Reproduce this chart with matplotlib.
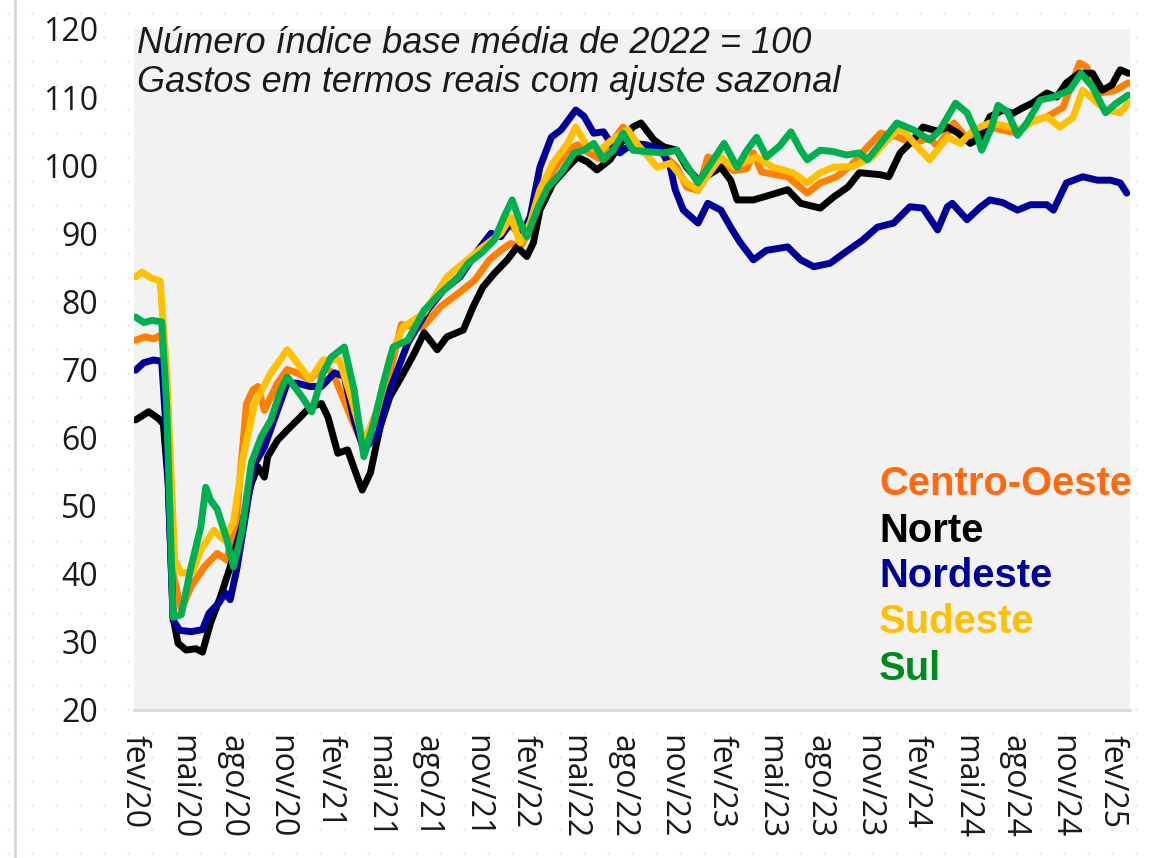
import numpy as np
import matplotlib.pyplot as plt

# months since fev/20 (x) and index values (y)
norte_m = [0.1, 0.9, 1.5, 1.8, 2.1, 2.4, 2.7, 3.2, 3.8, 4.2, 4.7, 5.3, 5.9, 6.6, 7.2, 7.6, 8.0, 8.2,
           8.8, 9.4, 10.2, 10.8, 11.5, 11.9, 12.5, 13.1, 13.7, 14.0, 14.5, 15.1, 15.7, 16.4, 17.2,
           17.8, 18.6, 19.2, 20.2, 20.8, 21.4, 22.1, 22.9, 23.5, 24.1, 24.5, 24.9, 25.7, 26.6, 27.2,
           27.8, 28.4, 29.2, 30.0, 30.6, 31.1, 31.9, 32.5, 33.3, 33.9, 34.6, 35.2, 36.0, 36.6, 37.0,
           38.0, 39.0, 40.1, 40.9, 42.1, 42.9, 43.8, 44.5, 45.8, 46.3, 47.0, 47.8, 48.4, 49.3, 49.9,
           50.5, 51.3, 51.9, 52.5, 53.3, 53.9, 54.5, 55.1, 56.0, 56.6, 57.2, 58.0, 58.8, 59.4, 60.0,
           60.5, 61.0]
norte_v = [62.6, 63.8, 62.8, 62.0, 53.3, 33.6, 29.8, 28.8, 29.0, 28.5, 32.8, 36.6, 41.0, 46.9, 53.3,
           55.7, 54.2, 57.2, 59.6, 61.1, 63.0, 64.5, 65.0, 63.0, 57.7, 58.2, 54.2, 52.3, 54.8, 61.6,
           66.0, 68.9, 72.4, 75.4, 72.9, 74.8, 75.8, 79.2, 82.1, 84.1, 86.1, 88.0, 86.6, 88.6, 93.4,
           97.3, 99.7, 101.2, 100.5, 99.3, 100.8, 103.7, 105.6, 106.2, 103.7, 102.7, 102.2, 99.7,
           97.8, 98.5, 99.7, 97.8, 94.9, 94.9, 95.6, 96.4, 94.4, 93.7, 95.3, 96.8, 98.9, 98.6, 98.3,
           101.8, 103.7, 105.6, 105.0, 105.6, 104.8, 103.2, 104.0, 107.1, 108.1, 107.6, 108.4, 109.1,
           110.6, 110.0, 112.1, 113.5, 113.5, 111.0, 111.8, 114.0, 113.5]

nordeste_m = [0.1, 0.6, 1.2, 1.7, 2.0, 2.4, 2.8, 3.5, 4.2, 4.6, 5.2, 5.6, 5.9, 6.3, 6.9, 7.3, 8.0,
              8.8, 9.4, 10.0, 10.8, 11.5, 12.3, 12.9, 13.5, 14.1, 15.0, 15.7, 16.8, 18.0, 19.0,
              20.0, 21.1, 21.9, 22.5, 23.1, 23.7, 24.3, 24.9, 25.6, 26.2, 27.1, 27.6, 28.2, 28.8,
              29.4, 29.8, 30.6, 31.4, 32.3, 32.9, 33.2, 33.7, 34.6, 35.2, 36.0, 36.6, 37.2, 38.0,
              38.8, 40.1, 40.9, 41.7, 42.7, 43.8, 44.7, 45.6, 46.6, 47.6, 48.4, 49.3, 49.9, 50.2,
              51.1, 51.9, 52.5, 53.3, 54.2, 55.0, 56.0, 56.4, 57.2, 58.2, 59.1, 59.9, 60.5, 60.9]
nordeste_v = [69.9, 71.0, 71.4, 71.2, 60.0, 33.2, 31.7, 31.5, 31.8, 34.2, 35.7, 37.2, 36.2, 40.6,
              49.4, 55.7, 58.6, 64.0, 68.0, 68.0, 67.5, 67.5, 69.5, 69.0, 62.6, 58.2, 60.7, 67.0,
              73.9, 78.7, 81.7, 83.6, 87.5, 90.0, 89.5, 91.5, 89.5, 92.4, 99.7, 104.1, 105.2, 108.1,
              107.2, 104.7, 104.9, 102.7, 101.8, 103.2, 103.0, 102.4, 99.7, 96.4, 93.4, 91.5, 94.4,
              93.4, 90.9, 88.6, 86.1, 87.5, 88.0, 86.1, 85.1, 85.6, 87.5, 89.0, 90.9, 91.5, 93.9,
              93.7, 90.5, 93.9, 94.4, 92.0, 93.8, 94.9, 94.5, 93.4, 94.2, 94.2, 93.4, 97.4, 98.3,
              97.8, 97.8, 97.4, 95.9]

centro_m = [0.1, 0.7, 1.2, 1.7, 2.0, 2.4, 2.9, 3.5, 4.3, 5.1, 5.7, 6.3, 6.9, 7.3, 7.6, 8.0, 8.8,
            9.4, 10.0, 10.8, 11.6, 12.2, 13.3, 14.1, 14.9, 15.7, 16.4, 17.7, 18.8, 19.9, 20.9,
            21.8, 22.5, 23.1, 23.7, 24.4, 25.3, 26.6, 27.2, 27.9, 28.7, 29.5, 30.0, 30.7, 32.1,
            33.3, 33.9, 34.6, 35.2, 36.0, 36.8, 37.6, 38.0, 38.5, 40.1, 41.3, 42.1, 43.1, 44.0,
            45.0, 45.8, 46.8, 47.8, 48.8, 49.3, 50.3, 51.0, 51.8, 52.5, 53.6, 54.2, 54.9, 56.0,
            57.0, 58.0, 58.4, 59.3, 60.2, 61.0]
centro_v = [74.3, 74.8, 74.5, 75.1, 65.0, 40.0, 34.7, 38.1, 41.0, 43.0, 42.0, 48.4, 65.0, 67.0,
            67.5, 64.0, 68.0, 70.0, 69.5, 68.5, 70.4, 69.5, 63.0, 58.6, 63.0, 69.5, 76.6, 76.2,
            79.2, 81.2, 83.1, 86.1, 87.5, 88.5, 88.0, 91.0, 97.8, 102.2, 103.0, 101.8, 100.8,
            104.0, 105.6, 103.0, 102.4, 99.7, 96.8, 96.3, 101.2, 100.5, 99.2, 99.5, 101.8, 99.0,
            98.3, 95.9, 97.4, 98.3, 100.0, 102.7, 104.7, 104.2, 103.2, 104.0, 102.7, 106.2, 104.2,
            104.8, 105.6, 105.0, 104.7, 106.3, 107.1, 108.5, 115.0, 114.5, 110.6, 111.0, 112.1]

sudeste_m = [0.1, 0.5, 1.0, 1.6, 2.0, 2.5, 2.9, 3.6, 4.1, 4.9, 5.5, 6.1, 6.7, 7.4, 8.4, 9.4, 10.2,
             10.8, 11.6, 12.6, 13.3, 14.1, 14.9, 15.7, 16.5, 17.8, 19.2, 20.2, 21.3, 22.5, 23.1,
             23.7, 24.3, 24.9, 25.7, 26.6, 27.1, 27.8, 28.6, 29.2, 30.3, 30.9, 32.1, 32.9, 33.9,
             34.6, 35.2, 36.0, 36.7, 37.3, 38.2, 39.2, 40.4, 41.3, 42.1, 42.9, 44.1, 45.3, 46.2,
             47.0, 47.8, 48.8, 49.9, 50.7, 51.5, 52.5, 53.6, 54.4, 55.2, 56.0, 56.8, 57.6, 58.2,
             58.8, 59.6, 60.5, 61.0]
sudeste_v = [83.6, 84.3, 83.5, 83.0, 70.0, 42.0, 40.1, 40.3, 43.5, 46.4, 45.0, 47.5, 57.2, 65.0,
             69.5, 72.9, 70.4, 68.5, 71.4, 71.4, 66.0, 59.2, 64.0, 71.8, 76.2, 78.3, 83.6, 85.6,
             87.8, 90.0, 92.4, 88.6, 91.5, 96.4, 100.3, 103.2, 105.6, 102.8, 102.2, 103.5, 105.2,
             103.0, 99.7, 100.3, 97.4, 96.4, 98.5, 101.2, 99.7, 100.3, 101.2, 99.7, 98.9, 97.4,
             98.9, 99.7, 99.8, 101.2, 103.7, 105.6, 103.4, 100.8, 104.1, 103.2, 105.2, 106.2,
             105.7, 105.2, 106.5, 107.1, 105.6, 107.0, 111.0, 109.8, 108.1, 107.7, 109.1]

sul_m = [0.1, 0.6, 1.1, 1.7, 2.0, 2.4, 2.9, 3.5, 4.1, 4.4, 4.7, 5.1, 5.7, 6.1, 6.6, 7.2, 7.8, 8.4,
         9.0, 9.4, 10.3, 10.9, 11.6, 12.1, 12.9, 13.5, 14.1, 14.7, 15.3, 15.9, 16.8, 17.8, 18.8,
         19.9, 20.5, 21.3, 22.1, 22.7, 23.2, 23.7, 24.1, 24.8, 25.4, 26.2, 27.0, 27.6, 28.2, 28.8,
         29.4, 30.0, 30.6, 31.4, 32.5, 33.3, 33.9, 34.6, 35.4, 36.2, 37.0, 37.6, 38.2, 38.8, 39.6,
         40.3, 40.9, 41.3, 42.1, 42.9, 43.7, 44.5, 45.0, 45.8, 46.8, 47.8, 48.8, 49.4, 50.4, 51.1,
         51.7, 52.0, 52.6, 53.0, 53.6, 54.2, 54.8, 55.6, 56.4, 57.4, 58.1, 58.8, 59.6, 60.2, 61.0]
sul_v = [77.7, 76.9, 77.2, 77.0, 65.0, 33.6, 34.0, 41.0, 46.9, 52.7, 50.8, 49.5, 45.0, 41.0, 46.0,
         56.3, 60.1, 62.6, 67.0, 68.9, 66.0, 63.8, 69.5, 71.8, 73.3, 67.0, 57.2, 62.1, 68.0, 73.3,
         74.3, 78.7, 81.2, 83.6, 85.6, 87.1, 89.0, 92.4, 94.9, 91.5, 89.5, 93.9, 96.8, 98.9, 101.8,
         102.2, 103.2, 100.8, 102.2, 104.7, 102.2, 102.0, 101.8, 102.2, 100.0, 97.4, 100.3, 103.2,
         99.7, 102.2, 104.1, 101.2, 102.8, 104.9, 102.2, 100.8, 102.2, 102.0, 101.5, 101.8, 100.8,
         103.2, 106.2, 105.2, 103.7, 105.0, 109.1, 107.7, 104.5, 102.2, 105.5, 108.8, 107.8, 104.4,
         106.3, 109.6, 110.0, 111.0, 113.5, 111.5, 107.7, 109.0, 110.3]

tick_pos = list(range(0, 61, 3))
tick_lbl = ["fev/20", "mai/20", "ago/20", "nov/20", "fev/21", "mai/21", "ago/21", "nov/21",
            "fev/22", "mai/22", "ago/22", "nov/22", "fev/23", "mai/23", "ago/23", "nov/23",
            "fev/24", "mai/24", "ago/24", "nov/24", "fev/25"]

regioes = ["Centro-Oeste", "Norte", "Nordeste", "Sudeste", "Sul"]
cores_linha = ["#FF7F00", "#000000", "#000099", "#FFC000", "#00B050"]
cores_texto = ["#FF6A10", "#000000", "#000099", "#FFC000", "#008A1E"]
series = [(centro_m, centro_v), (norte_m, norte_v), (nordeste_m, nordeste_v),
          (sudeste_m, sudeste_v), (sul_m, sul_v)]

W, H = 1150, 858
fig = plt.figure(figsize=(W / 100, H / 100), dpi=100, facecolor="white")

# dotted slide background
bg = fig.add_axes([0, 0, 1, 1], zorder=-10)
bg.set_xlim(0, W)
bg.set_ylim(H, 0)
bg.axis("off")
gx, gy = np.meshgrid(np.arange(8, W, 24), np.arange(13, H, 24))
bg.scatter(gx.ravel(), gy.ravel(), s=2.5, color="#e2e2e2", linewidths=0)
bg.plot([15, 15], [0, H], color="#d4d4d4", lw=2)

left, right, top, bottom = 134, 1130, 29, 710
ax = fig.add_axes([left / W, 1 - bottom / H, (right - left) / W, (bottom - top) / H])
ax.set_facecolor("#f2f2f2")

for (xm, yv), c in zip(series, cores_linha):
    ax.plot(xm, yv, color=c, lw=5, solid_joinstyle="round", solid_capstyle="round")

ax.set_xlim(0, 61.1)
ax.set_ylim(20, 120)
ax.set_yticks(range(20, 121, 10))
ax.set_xticks(tick_pos)
ax.set_xticklabels(tick_lbl, rotation=270)
for s in ["left", "right", "top"]:
    ax.spines[s].set_visible(False)
ax.spines["bottom"].set_color("#d9d9d9")
ax.spines["bottom"].set_linewidth(2)
ax.tick_params(axis="both", length=0, labelsize=23, labelcolor="#1a1a1a")
ax.tick_params(axis="y", pad=26)
ax.tick_params(axis="x", pad=18)
for lab in ax.get_xticklabels() + ax.get_yticklabels():
    lab.set_family("Open Sans")

ax.text(0.003, 0.9648, "Número índice base média de 2022 = 100", transform=ax.transAxes,
        fontsize=26, family="Liberation Sans", style="italic", va="baseline", color="#1a1a1a")
ax.text(0.003, 0.9075, "Gastos em termos reais com ajuste sazonal", transform=ax.transAxes,
        fontsize=26, family="Liberation Sans", style="italic", va="baseline", color="#1a1a1a")

# region labels in place of a legend
ys = [0.3157, 0.2467, 0.1806, 0.1131, 0.0441]
for nome, c, yy in zip(regioes, cores_texto, ys):
    ax.text(0.748, yy, nome, transform=ax.transAxes, color=c, fontsize=28.8,
            fontweight="bold", family="Liberation Sans", va="baseline", clip_on=False)

fig.savefig("out.png", dpi=100, facecolor="white")
